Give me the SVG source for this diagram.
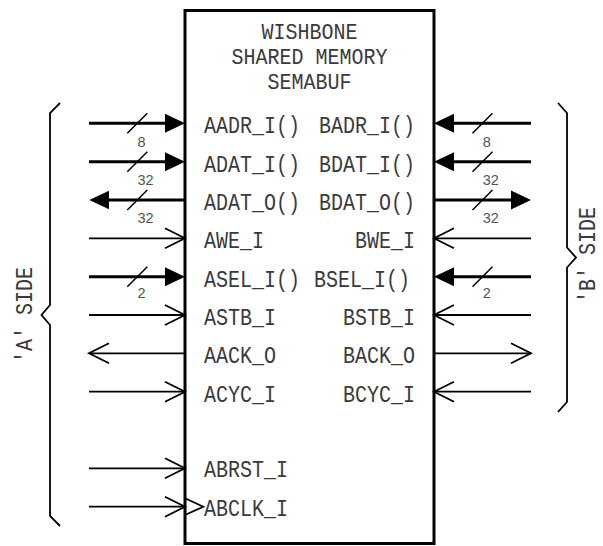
<svg xmlns="http://www.w3.org/2000/svg" width="603" height="546" viewBox="0 0 603 546">
<style>
.lbl{font-family:"Liberation Mono","DejaVu Sans Mono",monospace;font-size:20px;fill:#3a3a3a}
.ttl{font-family:"Liberation Mono","DejaVu Sans Mono",monospace;font-size:20px;fill:#3a3a3a;text-anchor:middle}
.side{font-family:"Liberation Mono","DejaVu Sans Mono",monospace;font-size:20px;fill:#3a3a3a;text-anchor:middle}
.end{text-anchor:end}
.num{font-family:"Liberation Sans",Arial,sans-serif;font-size:14.5px;fill:#555}
.bus{stroke:#000;stroke-width:3;fill:none}
.sig{stroke:#000;stroke-width:1.8;fill:none}
.slash{stroke:#000;stroke-width:1.5;fill:none}
.brace{stroke:#000;stroke-width:1.8;fill:none;stroke-linejoin:miter}
.box{stroke:#000;stroke-width:3;fill:#fff}
</style>
<defs>
<marker id="fa" markerUnits="userSpaceOnUse" viewBox="0 0 20 20" markerWidth="20" markerHeight="20" refX="10" refY="10" orient="auto">
<path d="M0,0.5 L20,10 L0,19.5 Z" fill="#000"/>
</marker>
<marker id="oa" markerUnits="userSpaceOnUse" viewBox="-2 -2 24 24" markerWidth="24" markerHeight="24" refX="20" refY="10" orient="auto" overflow="visible">
<path d="M0,0 L20,10 L0,20" fill="none" stroke="#000" stroke-width="1.8"/>
</marker>
</defs>
<rect width="603" height="546" fill="#fff"/>
<g id="semabuf">
<rect class="box" x="185" y="10.5" width="249" height="533"/>
<text class="ttl" transform="translate(309.5,39) scale(1,1.08)">WISHBONE</text>
<text class="ttl" transform="translate(309.5,64) scale(1,1.08)">SHARED MEMORY</text>
<text class="ttl" transform="translate(309.5,89) scale(1,1.08)">SEMABUF</text>
<text class="lbl" transform="translate(204,133.3) scale(1,1.2)">AADR_I()</text>
<text class="lbl" transform="translate(204,171.7) scale(1,1.2)">ADAT_I()</text>
<text class="lbl" transform="translate(204,210) scale(1,1.2)">ADAT_O()</text>
<text class="lbl" transform="translate(204,248.3) scale(1,1.2)">AWE_I</text>
<text class="lbl" transform="translate(204,286.7) scale(1,1.2)">ASEL_I()</text>
<text class="lbl" transform="translate(204,325) scale(1,1.2)">ASTB_I</text>
<text class="lbl" transform="translate(204,363.3) scale(1,1.2)">AACK_O</text>
<text class="lbl" transform="translate(204,401.7) scale(1,1.2)">ACYC_I</text>
<text class="lbl" transform="translate(204,477.3) scale(1,1.2)">ABRST_I</text>
<text class="lbl" transform="translate(204,515.7) scale(1,1.2)">ABCLK_I</text>
<text class="lbl end" transform="translate(415,133.3) scale(1,1.2)">BADR_I()</text>
<text class="lbl end" transform="translate(415,171.7) scale(1,1.2)">BDAT_I()</text>
<text class="lbl end" transform="translate(415,210) scale(1,1.2)">BDAT_O()</text>
<text class="lbl end" transform="translate(415,248.3) scale(1,1.2)">BWE_I</text>
<text class="lbl end" transform="translate(410,286.7) scale(1,1.2)">BSEL_I()</text>
<text class="lbl end" transform="translate(415,325) scale(1,1.2)">BSTB_I</text>
<text class="lbl end" transform="translate(415,363.3) scale(1,1.2)">BACK_O</text>
<text class="lbl end" transform="translate(415,401.7) scale(1,1.2)">BCYC_I</text>
<polyline class="sig" points="185,498.3 203.3,506.7 185,515"/>
</g>
<g id="a-side">
<path class="brace" d="M60,103 L50,113 L50,305 L41.5,315 L50,325 L50,516 L60,526"/>
<text class="side" transform="translate(32,315) rotate(-90) scale(1,1.2)">'A' SIDE</text>
</g>
<g id="b-side">
<path class="brace" d="M558,103 L567,113 L567,247.5 L576,257.5 L567,267.5 L567,402 L558,412"/>
<text class="side" transform="translate(595,255) rotate(-90) scale(1,1.2)">'B' SIDE</text>
</g>
<g id="connectors">
<line class="bus" x1="89" y1="123.3" x2="175" y2="123.3" marker-end="url(#fa)"/>
<line class="bus" x1="89" y1="161.7" x2="175" y2="161.7" marker-end="url(#fa)"/>
<line class="bus" x1="185" y1="200" x2="99.3" y2="200" marker-end="url(#fa)"/>
<line class="sig" x1="89" y1="238.3" x2="185" y2="238.3" marker-end="url(#oa)"/>
<line class="bus" x1="89" y1="276.7" x2="175" y2="276.7" marker-end="url(#fa)"/>
<line class="sig" x1="89" y1="315" x2="185" y2="315" marker-end="url(#oa)"/>
<line class="sig" x1="185" y1="353.3" x2="89" y2="353.3" marker-end="url(#oa)"/>
<line class="sig" x1="89" y1="391.7" x2="185" y2="391.7" marker-end="url(#oa)"/>
<line class="sig" x1="89" y1="468.3" x2="185" y2="468.3" marker-end="url(#oa)"/>
<line class="sig" x1="89" y1="506.7" x2="185" y2="506.7" marker-end="url(#oa)"/>
<line class="bus" x1="531" y1="123.3" x2="444" y2="123.3" marker-end="url(#fa)"/>
<line class="bus" x1="531" y1="161.7" x2="444" y2="161.7" marker-end="url(#fa)"/>
<line class="bus" x1="434" y1="200" x2="521" y2="200" marker-end="url(#fa)"/>
<line class="sig" x1="531" y1="238.3" x2="434" y2="238.3" marker-end="url(#oa)"/>
<line class="bus" x1="531" y1="276.7" x2="444" y2="276.7" marker-end="url(#fa)"/>
<line class="sig" x1="531" y1="315" x2="434" y2="315" marker-end="url(#oa)"/>
<line class="sig" x1="434" y1="353.3" x2="531" y2="353.3" marker-end="url(#oa)"/>
<line class="sig" x1="531" y1="391.7" x2="434" y2="391.7" marker-end="url(#oa)"/>
<path class="slash" d="M127.3,133.3 L147.3,113.3 M127.3,171.7 L147.3,151.7 M127.3,210 L147.3,190 M127.3,286.7 L147.3,266.7"/>
<path class="slash" d="M472.5,133.3 L492.5,113.3 M472.5,171.7 L492.5,151.7 M472.5,210 L492.5,190 M472.5,286.7 L492.5,266.7"/>
<text class="num" x="137.5" y="146.5">8</text>
<text class="num" x="137.5" y="184.5">32</text>
<text class="num" x="137.5" y="222.8">32</text>
<text class="num" x="137.5" y="298">2</text>
<text class="num" x="482.7" y="146.5">8</text>
<text class="num" x="482.7" y="184.5">32</text>
<text class="num" x="482.7" y="222.8">32</text>
<text class="num" x="482.7" y="298">2</text>
</g>
</svg>
